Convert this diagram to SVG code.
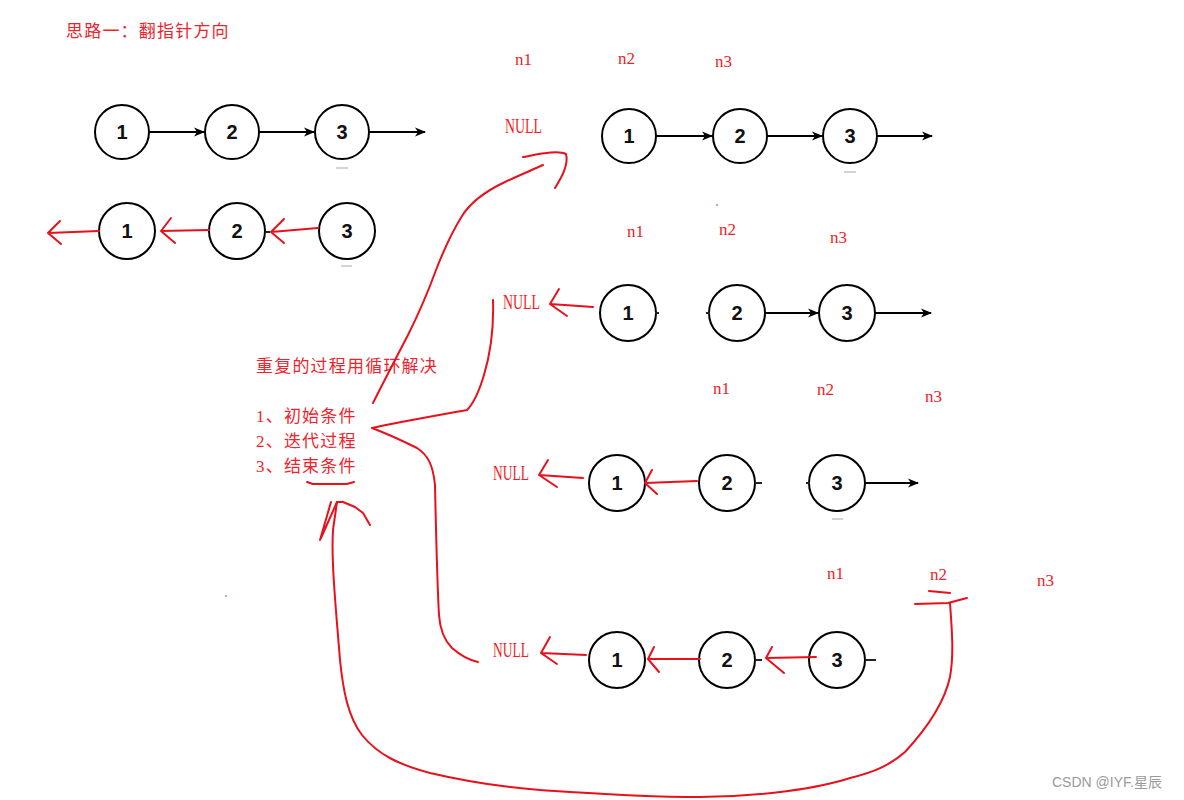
<svg xmlns="http://www.w3.org/2000/svg" width="1184" height="800" viewBox="0 0 1184 800">
<defs>
<marker id="ah" markerWidth="11" markerHeight="10" refX="10" refY="5" orient="auto" markerUnits="userSpaceOnUse">
<path d="M0,0.5 L11,5 L0,9.5 L3,5 Z" fill="#000"/>
</marker>
<style>
.node circle{fill:#fff;stroke:#000;stroke-width:2}
.node text{font-family:"Liberation Sans",Arial,sans-serif;font-weight:bold;font-size:20px;text-anchor:middle;fill:#111}
.edge{stroke:#000;stroke-width:2;fill:none;marker-end:url(#ah)}
.red{stroke:#e8111b;stroke-width:2;fill:none;stroke-linecap:round;stroke-linejoin:round}
.lbl{font-family:"Liberation Serif","Times New Roman",serif;font-size:17px;fill:#f01e28}
.null{font-family:"Liberation Serif","Times New Roman",serif;font-size:20px;fill:#f01e28}
.cn{font-family:"Liberation Serif","Noto Sans CJK SC",sans-serif;font-size:17px;fill:#f0232d;letter-spacing:1.2px}
.stub{stroke:#222;stroke-width:2}
.gray{stroke:#c4c4c4;stroke-width:1.5}
</style>
</defs>
<rect width="1184" height="800" fill="#fff"/>

<!-- texts -->
<text class="cn" x="66" y="37">思路一：翻指针方向</text>
<text class="cn" x="256" y="372">重复的过程用循环解决</text>
<text class="cn" x="256" y="422">1、初始条件</text>
<text class="cn" x="256" y="447">2、迭代过程</text>
<text class="cn" x="256" y="472">3、结束条件</text>

<text class="lbl" x="515" y="65">n1</text>
<text class="lbl" x="618" y="64">n2</text>
<text class="lbl" x="715" y="67">n3</text>
<text class="null" x="505" y="133" textLength="37" lengthAdjust="spacingAndGlyphs">NULL</text>

<text class="lbl" x="627" y="237">n1</text>
<text class="lbl" x="719" y="235">n2</text>
<text class="lbl" x="830" y="243">n3</text>
<text class="null" x="503" y="309" textLength="37" lengthAdjust="spacingAndGlyphs">NULL</text>

<text class="lbl" x="713" y="394">n1</text>
<text class="lbl" x="817" y="395">n2</text>
<text class="lbl" x="925" y="402">n3</text>
<text class="null" x="493" y="480" textLength="36" lengthAdjust="spacingAndGlyphs">NULL</text>

<text class="lbl" x="827" y="579">n1</text>
<text class="lbl" x="930" y="580">n2</text>
<text class="lbl" x="1037" y="586">n3</text>
<text class="null" x="493" y="657" textLength="36" lengthAdjust="spacingAndGlyphs">NULL</text>

<text x="1052" y="787" font-family="Liberation Sans, Noto Sans CJK SC, sans-serif" font-size="14" fill="#9a9a9a">CSDN @IYF.星辰</text>

<!-- nodes -->
<g id="a1" class="node"><circle cx="122" cy="132" r="27"/><text x="122" y="139">1</text></g>
<g id="a2" class="node"><circle cx="232" cy="132" r="27"/><text x="232" y="139">2</text></g>
<g id="a3" class="node"><circle cx="342" cy="132" r="27"/><text x="342" y="139">3</text></g>

<g id="b1" class="node"><circle cx="127" cy="231" r="28"/><text x="127" y="238">1</text></g>
<g id="b2" class="node"><circle cx="237" cy="231" r="28"/><text x="237" y="238">2</text></g>
<g id="b3" class="node"><circle cx="347" cy="231" r="28"/><text x="347" y="238">3</text></g>

<g id="c1" class="node"><circle cx="629" cy="136" r="27"/><text x="629" y="143">1</text></g>
<g id="c2" class="node"><circle cx="740" cy="136" r="27"/><text x="740" y="143">2</text></g>
<g id="c3" class="node"><circle cx="850" cy="136" r="27"/><text x="850" y="143">3</text></g>

<g id="d1" class="node"><circle cx="628" cy="313" r="28"/><text x="628" y="320">1</text></g>
<g id="d2" class="node"><circle cx="737" cy="313" r="28"/><text x="737" y="320">2</text></g>
<g id="d3" class="node"><circle cx="847" cy="313" r="28"/><text x="847" y="320">3</text></g>

<g id="e1" class="node"><circle cx="617" cy="483" r="28"/><text x="617" y="490">1</text></g>
<g id="e2" class="node"><circle cx="727" cy="483" r="28"/><text x="727" y="490">2</text></g>
<g id="e3" class="node"><circle cx="837" cy="483" r="28"/><text x="837" y="490">3</text></g>

<g id="f1" class="node"><circle cx="617" cy="660" r="28"/><text x="617" y="667">1</text></g>
<g id="f2" class="node"><circle cx="727" cy="660" r="28"/><text x="727" y="667">2</text></g>
<g id="f3" class="node"><circle cx="837" cy="660" r="28"/><text x="837" y="667">3</text></g>

<!-- connectors -->
<g id="connectors">
<line class="edge" x1="149" y1="132" x2="204" y2="132"/>
<line class="edge" x1="259" y1="132" x2="314" y2="132"/>
<line class="edge" x1="369" y1="132" x2="425" y2="132"/>

<line class="edge" x1="656" y1="136" x2="712" y2="136"/>
<line class="edge" x1="767" y1="136" x2="822" y2="136"/>
<line class="edge" x1="877" y1="136" x2="932" y2="136"/>

<line class="edge" x1="765" y1="313" x2="818" y2="313"/>
<line class="edge" x1="875" y1="313" x2="931" y2="313"/>

<line class="edge" x1="865" y1="483" x2="918" y2="483"/>

<line class="stub" x1="655" y1="313" x2="659" y2="313"/>
<line class="stub" x1="706" y1="313" x2="710" y2="313"/>
<line class="stub" x1="755" y1="483" x2="762" y2="483"/>
<line class="stub" x1="806" y1="483" x2="810" y2="483"/>
<line class="stub" x1="755" y1="660" x2="762" y2="660"/>
<line class="stub" x1="865" y1="660" x2="876" y2="660"/>
<line class="stub" x1="266" y1="232" x2="270" y2="232"/>

<line class="gray" x1="336" y1="168" x2="348" y2="168"/>
<line class="gray" x1="341" y1="266" x2="352" y2="266"/>
<line class="gray" x1="844" y1="172" x2="856" y2="172"/>
<line class="gray" x1="832" y1="519" x2="843" y2="519"/>

<!-- red hand-drawn arrows -->
<path class="red" d="M99,231 L48,233 M60,221 L48,233 L61,244"/>
<path class="red" d="M209,230 L161,231 M171,218 L161,231 L175,243"/>
<path class="red" d="M318,228 L271,232 M284,219 L271,232 L284,243"/>

<path class="red" d="M593,307 L550,304 M559,289 L550,304 L567,316"/>

<path class="red" d="M583,478 L539,475 M548,460 L539,475 L557,487"/>
<path class="red" d="M697,481 L645,483 M652,470 L645,483 L657,494"/>

<path class="red" d="M586,655 L541,653 M550,637 L541,653 L557,664"/>
<path class="red" d="M700,659 L648,659 M654,647 L648,659 L659,672"/>
<path class="red" d="M816,657 L766,658 M772,647 L766,658 L784,673"/>

<!-- S curve up to top row -->
<path class="red" d="M373,403 C382,385 395,360 408,335 C418,315 428,292 436,270 C443,252 452,232 462,216 C472,200 488,190 505,182 C520,175 532,170 543,165"/>
<path class="red" d="M523,157 C540,154 558,150 566,154 C569,165 561,178 555,188"/>

<!-- brace -->
<path class="red" d="M493,300 C494,330 490,355 484,375 C478,395 472,405 467,410 C440,415 400,422 372,428 C385,433 405,442 417,448 C428,455 433,465 435,485 C436,530 437,580 439,615 C440,630 444,640 452,648 C460,655 468,660 478,662"/>

<!-- underline -->
<path class="red" d="M307,482 L313,484 L347,484 L354,482"/>

<!-- bottom loop -->
<path class="red" d="M950,603 C952,630 954,655 950,677 C945,700 930,725 905,752 C890,765 875,772 850,778 C820,788 760,797 700,797 C640,797 570,792 540,790 C500,787 460,780 430,773 C400,765 378,755 362,735 C348,717 343,690 340,660 C336,610 331,560 333,530 L337,502"/>
<path class="red" d="M320,540 L331,502 M321,538 L337,502 M337,502 L343,502 L355,507 L363,513 L370,525"/>

<!-- n2 marks -->
<path class="red" d="M929,591 L950,593"/>
<path class="red" d="M915,604 L948,603 L967,598"/>

<circle cx="717" cy="205" r="0.8" fill="#e8111b"/>
<circle cx="226" cy="596" r="0.8" fill="#e8111b"/>
</g>
</svg>
